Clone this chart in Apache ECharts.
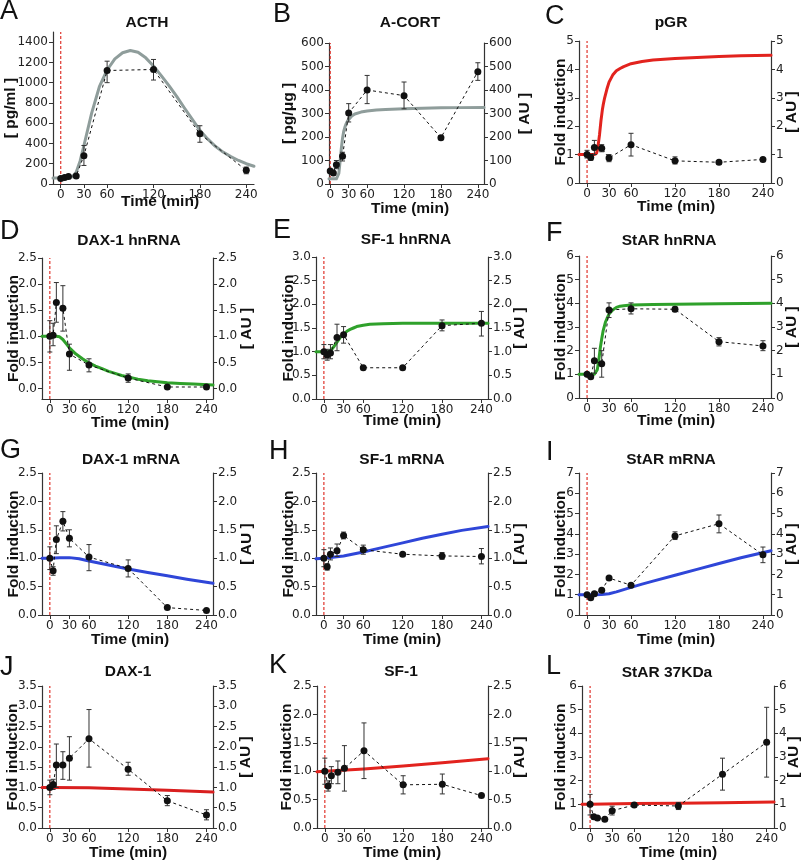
<!DOCTYPE html>
<html><head><meta charset="utf-8">
<script src="https://cdn.jsdelivr.net/npm/echarts@6/dist/echarts.min.js"></script>
<style>html,body{margin:0;padding:0;background:#fff}#c{width:802px;height:860px}</style>
</head><body><div id="c"></div>
<script>
// ---------- shared ----------
const times = [0, 5, 10, 20, 30, 60, 120, 180, 240];
const xTicks = [0, 30, 60, 120, 180, 240];

// ---------- A: ACTH ----------
const acthMean = [55, 65, 75, 80, 280, 1120, 1130, 495, 135];
const acthLow  = [50, 60, 70, 75, 183, 1000, 1026, 412, 101];
const acthHigh = [60, 70, 80, 85, 380, 1212, 1229, 575, 167];
const acthModelT = [-10, 0, 10, 15, 20, 25, 30, 40, 50, 60, 70, 80, 90, 100, 110, 120, 130, 140, 150, 160, 170, 180, 190, 200, 210, 220, 230, 240, 250];
const acthModelV = [60, 60, 62, 72, 115, 225, 380, 700, 960, 1125, 1235, 1295, 1318, 1300, 1245, 1165, 1070, 970, 865, 750, 640, 530, 445, 372, 315, 270, 232, 200, 175];
const acthTicks = [0, 200, 400, 600, 800, 1000, 1200, 1400];

// ---------- B: A-CORT ----------
const cortMean = [55, 47, 82, 118, 302, 400, 376, 197, 478];
const cortLow  = [50, 42, 65, 98, 264, 342, 320, 190, 441];
const cortHigh = [60, 52, 100, 135, 342, 462, 434, 204, 516];
const cortModelT = [-2, 0, 5, 10, 12, 14, 16, 18, 20, 22, 24, 26, 28, 30, 35, 40, 50, 60, 75, 90, 120, 150, 180, 210, 250];
const cortModelV = [22, 22, 22, 22, 26, 45, 95, 150, 195, 225, 243, 257, 268, 276, 289, 298, 306, 311, 315, 317, 320, 322, 324, 325, 326];
const cortTicks = [0, 100, 200, 300, 400, 500, 600];

// ---------- C: pGR ----------
const pgrMean = [1.0, 0.9, 1.25, 1.22, 0.88, 1.35, 0.78, 0.73, 0.83];
const pgrLow  = [0.88, 0.8, 1.0, 1.1, 0.75, 0.95, 0.67, 0.7, 0.8];
const pgrHigh = [1.15, 1.0, 1.5, 1.35, 1.0, 1.75, 0.92, 0.77, 0.87];
const pgrModelT = [-11, 0, 10, 12, 13, 14, 15, 16, 17, 18, 19, 20, 21, 22, 24, 27, 30, 35, 40, 45, 50, 60, 75, 90, 120, 150, 180, 210, 251];
const pgrModelV = [1, 1, 1, 1.02, 1.05, 1.15, 1.3, 1.5, 1.7, 1.95, 2.2, 2.4, 2.6, 2.75, 3.0, 3.3, 3.55, 3.8, 3.95, 4.03, 4.1, 4.2, 4.28, 4.33, 4.38, 4.42, 4.45, 4.48, 4.5];
const pgrTicks = [0, 1, 2, 3, 4, 5];

// ---------- D: DAX-1 hnRNA ----------
const daxHnMean = [1.0, 1.02, 1.65, 1.54, 0.66, 0.45, 0.2, 0.03, 0.03];
const daxHnLow  = [0.7, 0.82, 1.27, 1.1, 0.35, 0.32, 0.12, 0.02, 0.02];
const daxHnHigh = [1.3, 1.25, 2.03, 1.97, 0.85, 0.57, 0.28, 0.04, 0.04];
const daxHnModelT = [-12, 0, 10, 15, 20, 25, 30, 40, 50, 60, 70, 80, 90, 100, 110, 120, 135, 150, 165, 180, 200, 220, 250];
const daxHnModelV = [1, 1, 1, 0.99, 0.94, 0.86, 0.78, 0.66, 0.57, 0.49, 0.43, 0.38, 0.33, 0.29, 0.25, 0.22, 0.18, 0.15, 0.13, 0.11, 0.095, 0.085, 0.07];
const daxHnTicks = [0, 0.5, 1, 1.5, 2, 2.5];

// ---------- E: SF-1 hnRNA ----------
const sfHnMean = [1.0, 0.93, 0.97, 1.3, 1.36, 0.66, 0.66, 1.55, 1.6];
const sfHnLow  = [0.85, 0.82, 0.85, 1.02, 1.18, 0.65, 0.65, 1.44, 1.33];
const sfHnHigh = [1.15, 1.05, 1.15, 1.58, 1.53, 0.68, 0.68, 1.67, 1.85];
const sfHnModelT = [-12, 0, 8, 10, 12, 14, 16, 18, 20, 25, 30, 35, 40, 45, 50, 60, 70, 90, 120, 250];
const sfHnModelV = [1, 1, 1, 1.02, 1.05, 1.08, 1.12, 1.16, 1.2, 1.3, 1.37, 1.43, 1.47, 1.5, 1.53, 1.56, 1.58, 1.59, 1.6, 1.6];
const sfHnTicks = [0, 0.5, 1, 1.5, 2, 2.5, 3];

// ---------- F: StAR hnRNA ----------
const starHnMean = [1.0, 0.9, 1.57, 1.45, 3.72, 3.77, 3.75, 2.38, 2.2];
const starHnLow  = [0.95, 0.85, 1.05, 0.88, 3.4, 3.55, 3.65, 2.2, 2.0];
const starHnHigh = [1.05, 0.95, 2.1, 2.0, 4.02, 4.02, 3.85, 2.55, 2.42];
const starHnModelT = [-11, 0, 10, 12, 14, 16, 18, 20, 22, 25, 28, 30, 35, 40, 45, 50, 60, 90, 120, 180, 251];
const starHnModelV = [1, 1, 1, 1.05, 1.2, 1.6, 2.1, 2.5, 2.85, 3.2, 3.42, 3.55, 3.72, 3.83, 3.88, 3.9, 3.93, 3.95, 3.96, 3.98, 4.0];
const starHnTicks = [0, 1, 2, 3, 4, 5, 6];

// ---------- G: DAX-1 mRNA ----------
const daxMMean = [1.0, 0.78, 1.33, 1.65, 1.35, 1.02, 0.82, 0.13, 0.08];
const daxMLow  = [0.8, 0.7, 1.08, 1.48, 1.2, 0.78, 0.67, 0.11, 0.06];
const daxMHigh = [1.2, 0.85, 1.57, 1.82, 1.5, 1.24, 0.97, 0.15, 0.1];
const daxMModelT = [-12, 0, 15, 30, 45, 60, 90, 120, 150, 180, 210, 250];
const daxMModelV = [1.0, 1.0, 1.01, 1.01, 0.99, 0.95, 0.88, 0.81, 0.75, 0.69, 0.63, 0.56];
const daxMTicks = [0, 0.5, 1, 1.5, 2, 2.5];

// ---------- H: SF-1 mRNA ----------
const sfMMean = [1.0, 0.85, 1.07, 1.13, 1.4, 1.15, 1.07, 1.04, 1.03];
const sfMLow  = [0.85, 0.79, 0.97, 1.03, 1.34, 1.07, 1.04, 0.98, 0.9];
const sfMHigh = [1.15, 0.9, 1.18, 1.25, 1.46, 1.23, 1.1, 1.1, 1.17];
const sfMModelT = [-12, 0, 30, 60, 90, 120, 150, 180, 210, 250];
const sfMModelV = [0.99, 1.0, 1.04, 1.11, 1.19, 1.27, 1.35, 1.42, 1.49, 1.56];
const sfMTicks = [0, 0.5, 1, 1.5, 2, 2.5];

// ---------- I: StAR mRNA ----------
const starMMean = [1.0, 0.85, 1.05, 1.22, 1.82, 1.47, 3.9, 4.5, 2.97];
const starMLow  = [0.93, 0.8, 1.0, 1.13, 1.75, 1.4, 3.72, 4.05, 2.58];
const starMHigh = [1.07, 0.9, 1.1, 1.3, 1.88, 1.53, 4.1, 4.93, 3.35];
const starMModelT = [-11, 0, 10, 20, 30, 40, 50, 60, 75, 90, 120, 150, 180, 210, 251];
const starMModelV = [1.0, 1.0, 1.0, 1.01, 1.05, 1.14, 1.25, 1.36, 1.52, 1.67, 1.96, 2.25, 2.54, 2.82, 3.17];
const starMTicks = [0, 1, 2, 3, 4, 5, 6, 7];

// ---------- J: DAX-1 protein ----------
const daxPMean = [1.0, 1.07, 1.55, 1.55, 1.72, 2.2, 1.45, 0.67, 0.32];
const daxPLow  = [0.82, 0.95, 1.0, 1.2, 1.18, 1.5, 1.3, 0.55, 0.2];
const daxPHigh = [1.18, 1.2, 2.07, 1.88, 2.25, 2.92, 1.62, 0.8, 0.45];
const daxPModelT = [-12, 0, 60, 120, 180, 250];
const daxPModelV = [1.0, 1.0, 0.99, 0.96, 0.93, 0.885];
const daxPTicks = [0, 0.5, 1, 1.5, 2, 2.5, 3, 3.5];

// ---------- K: SF-1 protein ----------
const sfPMean = [1.0, 0.74, 0.92, 0.98, 1.05, 1.36, 0.76, 0.77, 0.57];
const sfPLow  = [0.77, 0.65, 0.78, 0.78, 0.65, 0.87, 0.6, 0.6, 0.55];
const sfPHigh = [1.23, 0.83, 1.08, 1.18, 1.45, 1.85, 0.92, 0.95, 0.59];
const sfPModelT = [-12, 0, 60, 120, 180, 250];
const sfPModelV = [0.99, 1.0, 1.04, 1.09, 1.15, 1.22];
const sfPTicks = [0, 0.5, 1, 1.5, 2, 2.5];

// ---------- L: StAR 37KDa ----------
const star37Mean = [1.0, 0.48, 0.42, 0.37, 0.73, 0.97, 0.93, 2.27, 3.62];
const star37Low  = [0.55, 0.44, 0.38, 0.34, 0.55, 0.9, 0.78, 1.6, 2.15];
const star37High = [1.42, 0.52, 0.46, 0.4, 0.92, 1.05, 1.08, 2.95, 5.1];
const star37ModelT = [-11, 0, 60, 120, 180, 250];
const star37ModelV = [1.0, 1.0, 1.03, 1.05, 1.07, 1.1];
const star37Ticks = [0, 1, 2, 3, 4, 5, 6];

// ---------- layout / style ----------
const GREY = '#8f9d9b', RED = '#e2231e', GREEN = '#2fa12b', BLUE = '#2f46d8';
const panels = [
  {L:'A', t:'ACTH', g:[53,32,201,152], x:[-10,250], y:[0,1500], yt:acthTicks, dec:0, yn:'[ pg/ml ]', right:false, c:GREY,
   m:acthMean, lo:acthLow, hi:acthHigh, mt:acthModelT, mv:acthModelV, lp:[0,12], tp:[147,23], lnx:11, rnx:0, xn:[160,202]},
  {L:'B', t:'A-CORT', g:[329,43,155,141], x:[-2,250], y:[0,600], yt:cortTicks, dec:0, yn:'[ pg/\u03bcg ]', right:true, c:GREY,
   m:cortMean, lo:cortLow, hi:cortHigh, mt:cortModelT, mv:cortModelV, lp:[273,15], tp:[410,23], lnx:289, rnx:525, xn:[410,209]},
  {L:'C', t:'pGR', g:[579,41,192,142], x:[-11,251], y:[0,5], yt:pgrTicks, dec:0, yn:'Fold induction', right:true, c:RED,
   m:pgrMean, lo:pgrLow, hi:pgrHigh, mt:pgrModelT, mv:pgrModelV, lp:[545,17], tp:[671,23], lnx:561, rnx:792, xn:[676,207]},
  {L:'D', t:'DAX-1 hnRNA', g:[42,258,171,141], x:[-12,250], y:[-0.2,2.5], yt:daxHnTicks, dec:1, yn:'Fold induction', right:true, c:GREEN,
   m:daxHnMean, lo:daxHnLow, hi:daxHnHigh, mt:daxHnModelT, mv:daxHnModelV, lp:[0,232], tp:[129,241], lnx:14, rnx:247, xn:[130,423]},
  {L:'E', t:'SF-1 hnRNA', g:[316,257,172,142], x:[-12,250], y:[0,3], yt:sfHnTicks, dec:1, yn:'Fold induction', right:true, c:GREEN,
   m:sfHnMean, lo:sfHnLow, hi:sfHnHigh, mt:sfHnModelT, mv:sfHnModelV, lp:[273,231], tp:[406,240], lnx:289, rnx:520, xn:[402,421]},
  {L:'F', t:'StAR hnRNA', g:[579,256,192,142], x:[-11,251], y:[0,6], yt:starHnTicks, dec:0, yn:'Fold induction', right:true, c:GREEN,
   m:starHnMean, lo:starHnLow, hi:starHnHigh, mt:starHnModelT, mv:starHnModelV, lp:[546,234], tp:[669,241], lnx:561, rnx:792, xn:[676,421]},
  {L:'G', t:'DAX-1 mRNA', g:[42,473,171,142], x:[-12,250], y:[0,2.5], yt:daxMTicks, dec:1, yn:'Fold induction', right:true, c:BLUE,
   m:daxMMean, lo:daxMLow, hi:daxMHigh, mt:daxMModelT, mv:daxMModelV, lp:[0,451], tp:[131,460], lnx:14, rnx:247, xn:[130,640]},
  {L:'H', t:'SF-1 mRNA', g:[316,473,172,142], x:[-12,250], y:[0,2.5], yt:sfMTicks, dec:1, yn:'Fold induction', right:true, c:BLUE,
   m:sfMMean, lo:sfMLow, hi:sfMHigh, mt:sfMModelT, mv:sfMModelV, lp:[269,452], tp:[402,460], lnx:289, rnx:520, xn:[402,640]},
  {L:'I', t:'StAR mRNA', g:[579,473,192,142], x:[-11,251], y:[0,7], yt:starMTicks, dec:0, yn:'Fold induction', right:true, c:BLUE,
   m:starMMean, lo:starMLow, hi:starMHigh, mt:starMModelT, mv:starMModelV, lp:[546,453], tp:[671,460], lnx:561, rnx:792, xn:[676,640]},
  {L:'J', t:'DAX-1', g:[42,686,171,142], x:[-12,250], y:[0,3.5], yt:daxPTicks, dec:1, yn:'Fold induction', right:true, c:'#d91f1f',
   m:daxPMean, lo:daxPLow, hi:daxPHigh, mt:daxPModelT, mv:daxPModelV, lp:[0,668], tp:[128,672], lnx:13, rnx:246, xn:[128,853]},
  {L:'K', t:'SF-1', g:[317,686,171,142], x:[-12,250], y:[0,2.5], yt:sfPTicks, dec:1, yn:'Fold induction', right:true, c:RED,
   m:sfPMean, lo:sfPLow, hi:sfPHigh, mt:sfPModelT, mv:sfPModelV, lp:[269,666], tp:[401,672], lnx:287, rnx:520, xn:[402,853]},
  {L:'L', t:'StAR 37KDa', g:[582,686,192,142], x:[-11,250], y:[0,6], yt:star37Ticks, dec:0, yn:'Fold induction', right:true, c:RED,
   m:star37Mean, lo:star37Low, hi:star37High, mt:star37ModelT, mv:star37ModelV, lp:[546,667], tp:[667,673], lnx:561, rnx:794, xn:[678,853]}
];

const TICKFONT = 'DejaVu Sans', BOLDFONT = 'Liberation Sans';
const axisLineStyle = {color:'#333', width:1.2};

function yAxisFor(p, i, pos) {
  return {
    gridIndex: i, type: 'value', position: pos, min: p.y[0], max: p.y[1],
    axisLine: {show: true, onZero: false, lineStyle: axisLineStyle},
    axisTick: {show: true, inside: false, length: 4, customValues: p.yt, lineStyle: {color:'#333'}},
    axisLabel: {show: true, customValues: p.yt, margin: 5, fontFamily: TICKFONT, fontSize: 12, color: '#222',
      formatter: v => p.dec ? Number(v).toFixed(p.dec) : String(Math.round(v))},
    splitLine: {show: false}
  };
}

function errRender(params, api) {
  const x = api.value(0), lo = api.value(1), hi = api.value(2);
  const a = api.coord([x, lo]), b = api.coord([x, hi]);
  const w = 2.5, st = {stroke: '#333', lineWidth: 1};
  return {type: 'group', children: [
    {type: 'line', shape: {x1: a[0], y1: a[1], x2: b[0], y2: b[1]}, style: st},
    {type: 'line', shape: {x1: a[0]-w, y1: a[1], x2: a[0]+w, y2: a[1]}, style: st},
    {type: 'line', shape: {x1: b[0]-w, y1: b[1], x2: b[0]+w, y2: b[1]}, style: st}
  ]};
}

const grids = [], xAxes = [], yAxes = [], rightAxes = [], series = [], graphics = [];
panels.forEach((p, i) => {
  grids.push({left: p.g[0], top: p.g[1], width: p.g[2], height: p.g[3]});
  xAxes.push({
    gridIndex: i, type: 'value', min: p.x[0], max: p.x[1],
    axisLine: {show: true, onZero: false, lineStyle: axisLineStyle},
    axisTick: {show: true, length: 4, customValues: xTicks, lineStyle: {color:'#333'}},
    axisLabel: {customValues: xTicks, margin: 5, fontFamily: TICKFONT, fontSize: 12, color: '#222'},
    splitLine: {show: false}
  });
  yAxes.push(yAxisFor(p, i, 'left'));
  if (p.right) rightAxes.push(yAxisFor(p, i, 'right'));

  // red dashed stimulus line at t = 0, spanning the panel's value range
  series.push({
    type: 'line', xAxisIndex: i, yAxisIndex: i, showSymbol: false, silent: true, z: 1,
    lineStyle: {color: '#e0342c', width: 1.2, type: [3, 2]},
    data: [[0, p.y[0]], [0, p.y[1]]]
  });
  series.push({
    type: 'line', xAxisIndex: i, yAxisIndex: i, showSymbol: false, smooth: false, silent: true, z: 2,
    lineStyle: {color: p.c, width: 3, join: 'round', cap: 'round'},
    data: p.mt.map((t, k) => [t, p.mv[k]])
  });
  series.push({
    type: 'custom', xAxisIndex: i, yAxisIndex: i, renderItem: errRender, z: 3, silent: true,
    encode: {x: 0, y: [1, 2]},
    data: times.map((t, k) => [t, p.lo[k], p.hi[k]])
  });
  series.push({
    type: 'line', xAxisIndex: i, yAxisIndex: i, symbol: 'circle', symbolSize: 7, z: 4, silent: true,
    itemStyle: {color: '#111'}, lineStyle: {color: '#111', width: 1, type: [3, 3]},
    data: times.map((t, k) => [t, p.m[k]])
  });

  graphics.push({type: 'text', x: p.lp[0], y: p.lp[1], style: {text: p.L, fontFamily: BOLDFONT, fontSize: 27,
    fill: '#111', align: 'left', verticalAlign: 'middle', textAlign: 'left', textVerticalAlign: 'middle'}});
  graphics.push({type: 'text', x: p.tp[0], y: p.tp[1], style: {text: p.t, fontFamily: BOLDFONT, fontWeight: 'bold', fontSize: 15.5,
    fill: '#111', align: 'center', verticalAlign: 'middle', textAlign: 'center', textVerticalAlign: 'middle'}});
  const cy = p.g[1] + p.g[3] / 2;
  graphics.push({type: 'text', x: p.lnx, y: cy, rotation: Math.PI / 2, style: {text: p.yn, fontFamily: BOLDFONT, fontWeight: 'bold',
    fontSize: 15.5, fill: '#111', align: 'center', verticalAlign: 'middle', textAlign: 'center', textVerticalAlign: 'middle'}});
  if (p.right) graphics.push({type: 'text', x: p.rnx, y: cy, rotation: Math.PI / 2, style: {text: '[ AU ]', fontFamily: BOLDFONT,
    fontWeight: 'bold', fontSize: 15.5, fill: '#111', align: 'center', verticalAlign: 'middle', textAlign: 'center', textVerticalAlign: 'middle'}});
  graphics.push({type: 'text', x: p.xn[0], y: p.xn[1], style: {text: 'Time (min)', fontFamily: BOLDFONT, fontWeight: 'bold',
    fontSize: 15.5, fill: '#111', align: 'center', verticalAlign: 'middle', textAlign: 'center', textVerticalAlign: 'middle'}});
});

const chart = echarts.init(document.getElementById('c'), null, {renderer: 'canvas'});
chart.setOption({
  animation: false,
  backgroundColor: '#ffffff',
  grid: grids,
  xAxis: xAxes,
  yAxis: yAxes.concat(rightAxes),
  series: series,
  graphic: graphics
});
</script>
</body></html>
